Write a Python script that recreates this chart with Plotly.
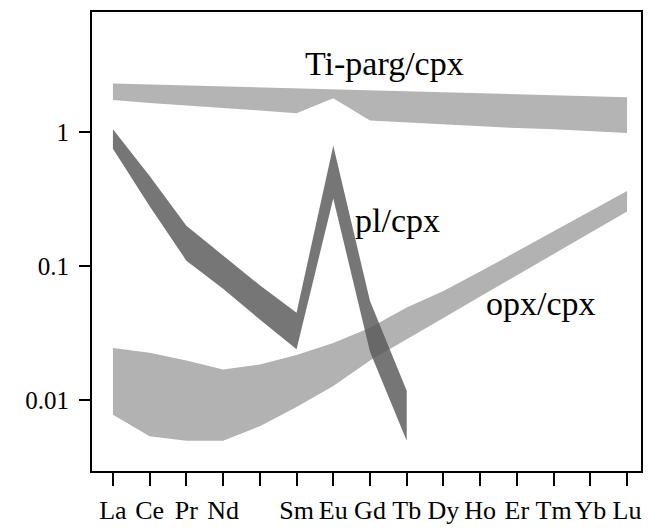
import plotly.graph_objects as go
import math

elements = ["La", "Ce", "Pr", "Nd", "Pm", "Sm", "Eu", "Gd", "Tb", "Dy", "Ho", "Er", "Tm", "Yb", "Lu"]
tick_labels = ["La", "Ce", "Pr", "Nd", "", "Sm", "Eu", "Gd", "Tb", "Dy", "Ho", "Er", "Tm", "Yb", "Lu"]

# Ti-pargasite / cpx partition ratio band
tiparg_upper = [2.30, 2.26, 2.22, 2.18, 2.15, 2.11, 2.08, 2.04, 2.01, 1.98, 1.94, 1.91, 1.88, 1.85, 1.82]
tiparg_lower = [1.73, 1.65, 1.58, 1.51, 1.45, 1.38, 1.79, 1.22, 1.18, 1.14, 1.105, 1.07, 1.05, 1.017, 0.983]

# plagioclase / cpx band (La..Tb)
pl_elements = ["La", "Ce", "Pr", "Nd", "Pm", "Sm", "Eu", "Gd", "Tb"]
pl_upper = [1.05, 0.47, 0.20, 0.12, 0.072, 0.045, 0.79, 0.055, 0.0118]
pl_lower = [0.75, 0.28, 0.11, 0.068, 0.040, 0.024, 0.32, 0.023, 0.0050]

# orthopyroxene / cpx band
opx_upper = [0.0245, 0.0226, 0.0198, 0.0170, 0.0185, 0.0218, 0.0267, 0.0348, 0.0493,
             0.0654, 0.0912, 0.129, 0.180, 0.256, 0.363]
opx_lower = [0.0078, 0.0054, 0.0050, 0.0050, 0.0064, 0.0089, 0.0128, 0.0198, 0.0285,
             0.0411, 0.0593, 0.0854, 0.123, 0.177, 0.256]

band_labels = ["Ti-parg/cpx", "pl/cpx", "opx/cpx"]
# label anchor: (element position, ratio value)
label_pos = [(7.4, 3.25), (7.75, 0.22), (11.67, 0.053)]

idx = {e: i for i, e in enumerate(elements)}


def band(names, upper, lower, color):
    xs = [idx[n] for n in names]
    return go.Scatter(
        x=xs + xs[::-1],
        y=list(upper) + list(lower)[::-1],
        fill="toself",
        fillcolor=color,
        mode="lines",
        line=dict(width=0, color=color),
        hoverinfo="skip",
        showlegend=False,
    )


fig = go.Figure()
fig.add_trace(band(elements, tiparg_upper, tiparg_lower, "#b4b4b4"))
fig.add_trace(band(elements, opx_upper, opx_lower, "#b2b2b2"))
fig.add_trace(band(pl_elements, pl_upper, pl_lower, "rgba(88,88,88,0.82)"))

serif = "Liberation Serif, Times New Roman, serif"

for text, (lx, ly) in zip(band_labels, label_pos):
    fig.add_annotation(x=lx, y=math.log10(ly), text=text, showarrow=False,
                       font=dict(family=serif, size=34, color="black"),
                       xref="x", yref="y")

fig.update_xaxes(
    range=[-0.57, 14.38],
    tickmode="array",
    tickvals=list(range(len(elements))),
    ticktext=tick_labels,
    ticks="outside",
    ticklen=13,
    tickwidth=1.5,
    tickcolor="black",
    showline=True,
    linecolor="black",
    linewidth=1.8,
    mirror=True,
    showgrid=False,
    zeroline=False,
    tickfont=dict(family=serif, size=26, color="black"),
    ticklabelstandoff=2,
)
fig.update_yaxes(
    type="log",
    range=[-2.527, 0.895],
    tickmode="array",
    tickvals=[0.01, 0.1, 1],
    ticktext=["0.01", "0.1", "1"],
    ticks="outside",
    ticklen=11,
    tickwidth=1.8,
    tickcolor="black",
    showline=True,
    linecolor="black",
    linewidth=1.8,
    mirror=True,
    showgrid=False,
    zeroline=False,
    tickfont=dict(family=serif, size=25, color="black"),
    ticklabelstandoff=5,
)
fig.update_layout(
    width=650,
    height=532,
    margin=dict(l=92, r=7, t=12, b=46),
    paper_bgcolor="white",
    plot_bgcolor="white",
)

fig.write_html("out.html", config={"displayModeBar": False},
               post_script="document.body.style.margin='0';document.body.style.overflow='hidden';")
